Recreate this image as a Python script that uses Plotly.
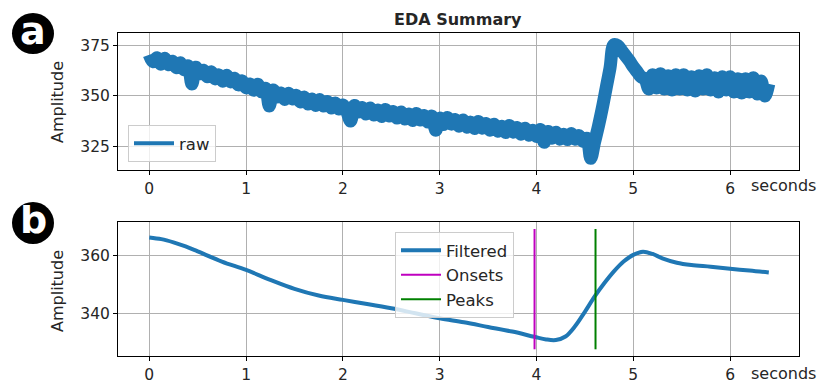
import plotly.graph_objects as go

# ---------------- data ----------------
raw_step = 0.04
raw_values = [
    370.5, 367, 369, 365.8, 368.8, 365.5, 367.3, 364, 366.5, 363,
    365, 356, 364.3, 361, 362.8, 359.5, 362, 358.5, 360.5, 357.3,
    360.3, 357, 358.8, 355.5, 357.5, 354, 356, 352.8, 355.8, 352,
    353.8, 345, 353, 349.5, 351.5, 348.3, 351.3, 348.5, 350.3, 347,
    349.5, 346, 348.5, 345.3, 348.3, 345, 347.3, 344, 346.5, 343.5,
    345.5, 342.3, 337.5, 345.3, 342, 344.3, 341, 344, 340.5, 343,
    339.8, 343.3, 340, 342.3, 339, 342, 338.5, 341, 337.8, 341.3,
    338, 340.3, 337, 340, 333, 339, 335.8, 339.3, 336, 338.3,
    335, 338, 334.5, 337, 333.8, 337.3, 334, 336.3, 333, 336,
    332.5, 335, 331.8, 335.3, 332, 334.3, 331, 334, 330.5, 333,
    329.8, 333.3, 327, 332.3, 329, 332, 328.5, 331, 328.3, 331.3,
    328.5, 330.3, 327.5, 329, 319, 327, 335, 344, 354, 364,
    375.5, 375, 372.5, 370, 367.5, 364.5, 362, 359.5, 358.5, 353.5,
    360.5, 354, 361, 353.5, 360, 353, 360.5, 353.5, 360.5, 353,
    359.5, 352.5, 360, 353.5, 360.5, 353, 359, 352, 359.5, 353,
    359.5, 352, 358.5, 351.5, 358.5, 352, 359, 351, 357.5, 350,
    356,
]
raw_time = [round(i * raw_step, 2) for i in range(len(raw_values))]

filt_time = [0, 0.125, 0.25, 0.375, 0.5, 0.75, 1.0, 1.25, 1.5, 1.75, 2.0, 2.25,
             2.5, 2.75, 3.0, 3.25, 3.5, 3.75, 3.98, 4.1, 4.2, 4.3, 4.4, 4.5,
             4.6, 4.7, 4.8, 4.9, 5.0, 5.1, 5.2, 5.3, 5.45, 5.6, 5.8, 6.0, 6.2, 6.4]
filt_values = [366.1, 365.5, 364.4, 363.0, 361.3, 357.8, 354.9, 351.5, 348.4,
               346.1, 344.6, 343.2, 341.7, 340.0, 338.3, 336.9, 335.3, 333.7,
               331.9, 331.0, 330.8, 332.0, 335.6, 340.5, 345.7, 350.3, 354.4,
               357.8, 360.1, 361.2, 360.4, 358.9, 357.4, 356.6, 356.0, 355.3,
               354.7, 354.0]

onsets = [3.98]
peaks = [4.61]
vline_range = [327.6, 369.0]

x_ticks = [0, 1, 2, 3, 4, 5, 6]
top_y_ticks = [325, 350, 375]
bot_y_ticks = [340, 360]

# ---------------- figure ----------------
W, H = 828, 387
BLUE = "#1f77b4"
FONT = "DejaVu Sans"
TXT = "#262626"


def px_x(p):
    return p / W


def px_y(p):
    return 1 - p / H


fig = go.Figure()

# raw signal drawn as a thick band; legend entry drawn separately with a thin line
fig.add_trace(go.Scatter(x=raw_time, y=raw_values, mode="lines", name="raw",
                         line=dict(color=BLUE, width=13, shape="spline", smoothing=1.0),
                         showlegend=False, xaxis="x", yaxis="y"))
fig.add_trace(go.Scatter(x=[None], y=[None], mode="lines", name="raw",
                         line=dict(color=BLUE, width=4),
                         xaxis="x", yaxis="y", legend="legend"))

fig.add_trace(go.Scatter(x=filt_time, y=filt_values, mode="lines", name="Filtered",
                         line=dict(color=BLUE, width=4, shape="spline", smoothing=1.0),
                         xaxis="x2", yaxis="y2", legend="legend2"))
for i, t in enumerate(onsets):
    fig.add_trace(go.Scatter(x=[t, t], y=vline_range, mode="lines", name="Onsets",
                             line=dict(color="#bf00bf", width=2), showlegend=(i == 0),
                             xaxis="x2", yaxis="y2", legend="legend2"))
for i, t in enumerate(peaks):
    fig.add_trace(go.Scatter(x=[t, t], y=vline_range, mode="lines", name="Peaks",
                             line=dict(color="#008000", width=2), showlegend=(i == 0),
                             xaxis="x2", yaxis="y2", legend="legend2"))

x_dom = [px_x(118), px_x(799)]
x_range = [-0.323, 6.712]

axis_common = dict(showline=True, linecolor="black", linewidth=1, mirror=True,
                   ticks="outside", ticklen=4, tickcolor="black",
                   showgrid=True, gridcolor="#b0b0b0", gridwidth=1,
                   zeroline=False, tickfont=dict(family=FONT, size=15.5, color=TXT))

legend_common = dict(bgcolor="rgba(255,255,255,0.8)", bordercolor="#cccccc", borderwidth=1,
                     itemwidth=40, font=dict(family=FONT, size=16.5, color=TXT))

fig.update_layout(
    width=W, height=H,
    margin=dict(l=0, r=0, t=0, b=0),
    paper_bgcolor="white", plot_bgcolor="white",
    font=dict(family=FONT, color=TXT),
    xaxis=dict(domain=x_dom, range=x_range, tickvals=x_ticks, anchor="y", **axis_common),
    yaxis=dict(domain=[px_y(170), px_y(33)], range=[313.2, 381.3], tickvals=top_y_ticks,
               anchor="x", **axis_common),
    xaxis2=dict(domain=x_dom, range=x_range, tickvals=x_ticks, anchor="y2", **axis_common),
    yaxis2=dict(domain=[px_y(356), px_y(222)], range=[325.3, 371.4], tickvals=bot_y_ticks,
                anchor="x2", **axis_common),
    legend=dict(x=px_x(128), y=px_y(162), xanchor="left", yanchor="bottom", **legend_common),
    legend2=dict(x=px_x(395), y=px_y(232), xanchor="left", yanchor="top", **legend_common),
    showlegend=True,
)


def ann(text, x, y, size, color=TXT, angle=0):
    return dict(text=text, x=px_x(x), y=px_y(y), xref="paper", yref="paper",
                xanchor="center", yanchor="middle", textangle=angle, showarrow=False,
                font=dict(family=FONT, size=size, color=color))


annotations = [
    ann("<b>EDA Summary</b>", 458, 19, 16),
    ann("seconds", 783, 185, 16),
    ann("seconds", 783, 373, 16),
    ann("Amplitude", 57, 102, 16, angle=-90),
    ann("Amplitude", 57, 291, 16, angle=-90),
    ann("<b>a</b>", 33, 31, 38, color="white"),
    ann("<b>b</b>", 33, 220, 38, color="white"),
]
fig.update_layout(annotations=annotations)

shapes = [
    dict(type="circle", xref="paper", yref="paper", x0=px_x(12), x1=px_x(54),
         y0=px_y(54), y1=px_y(13), fillcolor="black", line=dict(color="black", width=0),
         layer="below"),
    dict(type="circle", xref="paper", yref="paper", x0=px_x(12), x1=px_x(54),
         y0=px_y(244), y1=px_y(202), fillcolor="black", line=dict(color="black", width=0),
         layer="below"),
]
fig.update_layout(shapes=shapes)

fig.write_html("out.html")
